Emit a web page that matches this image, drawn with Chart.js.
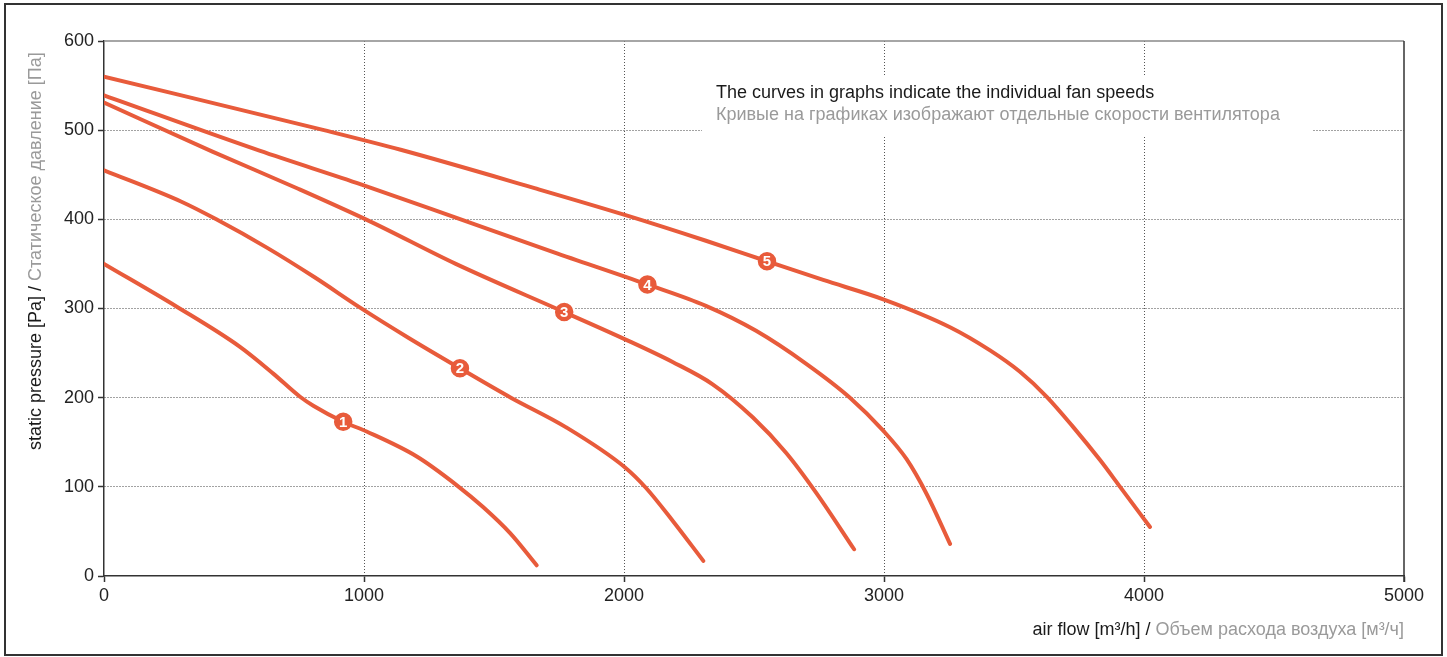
<!DOCTYPE html>
<html>
<head>
<meta charset="utf-8">
<script src="https://cdn.jsdelivr.net/npm/chart.js@4.4.1/dist/chart.umd.min.js"></script>
<style>
html,body{margin:0;padding:0;background:#fff;}
#wrap{width:1447px;height:657px;position:relative;}
canvas{display:block;}
</style>
</head>
<body>
<div id="wrap"><canvas id="c" width="1447" height="657"></canvas></div>
<script>
// ---- data ----
const xTicks = [0, 1000, 2000, 3000, 4000, 5000];
const yTicks = [0, 100, 200, 300, 400, 500, 600];

const speed1X = [0, 280, 523, 651, 754, 805, 920, 1010, 1203, 1356, 1459, 1562, 1664];
const speed1Y = [350, 302, 257, 227, 201, 191, 173, 162, 134, 102, 77, 48, 12];

const speed2X = [0, 296, 432, 628, 810, 985, 1172, 1369, 1565, 1776, 2003, 2084, 2187, 2305];
const speed2Y = [455, 420, 400, 368, 335, 301, 267, 233, 200, 167, 122, 99, 62, 17];

const speed3X = [0, 417, 749, 1021, 1353, 1770, 2000, 2187, 2341, 2495, 2624, 2740, 2885];
const speed3Y = [531, 476, 434, 398, 350, 296, 266, 240, 215, 178, 138, 93, 30];

const speed4X = [0, 598, 991, 1353, 1731, 2090, 2315, 2508, 2701, 2869, 2997, 3087, 3164, 3254];
const speed4Y = [539, 477, 439, 402, 363, 327, 303, 275, 238, 200, 163, 131, 92, 36];

const speed5X = [0, 846, 1141, 1656, 2003, 2315, 2550, 2766, 3000, 3254, 3408, 3523, 3626, 3728, 3831, 3908, 4023];
const speed5Y = [560, 500, 478, 435, 405, 376, 353, 332, 310, 279, 253, 229, 201, 167, 130, 100, 55];

const markerX = [920, 1369, 1770, 2090, 2550];
const markerY = [173, 233, 296, 327, 353];
const markerText = ['1', '2', '3', '4', '5'];

const noteLine1 = 'The curves in graphs indicate the individual fan speeds';
const noteLine2 = 'Кривые на графиках изображают отдельные скорости вентилятора';
const yTitleMain = 'static pressure [Pa] / ';
const yTitleRu = 'Статическое давление [Па]';
const xTitleMain = 'air flow [m³/h] / ';
const xTitleRu = 'Объем расхода воздуха [м³/ч]';

// ---- build ----
const LINE = '#e85b3b';
const FONT = '"Liberation Sans", Arial, Helvetica, sans-serif';
function pts(xs, ys){ return xs.map((x,i)=>({x:x, y:ys[i]})); }
const curveSets = [[speed1X,speed1Y],[speed2X,speed2Y],[speed3X,speed3Y],[speed4X,speed4Y],[speed5X,speed5Y]];
const datasets = curveSets.map(([xs,ys],i)=>({
  label: 'speed ' + (i+1),
  data: pts(xs, ys),
  borderColor: LINE,
  borderWidth: 4,
  pointRadius: 0,
  fill: false,
  cubicInterpolationMode: 'monotone',
  borderCapStyle: 'round',
  borderJoinStyle: 'round'
}));
datasets.push({
  label: 'markers',
  data: pts(markerX, markerY),
  showLine: false,
  pointRadius: 10,
  pointBackgroundColor: LINE,
  pointBorderColor: '#ffffff',
  pointBorderWidth: 1.5
});

const decor = {
  id: 'decor',
  beforeDraw(chart){
    const ctx = chart.ctx;
    ctx.save();
    ctx.fillStyle = '#fff';
    ctx.fillRect(0,0,chart.width,chart.height);
    ctx.strokeStyle = '#333';
    ctx.lineWidth = 2;
    ctx.strokeRect(5, 4, 1437, 651);
    ctx.restore();
  },
  beforeDatasetsDraw(chart){
    const ctx = chart.ctx;
    const a = chart.chartArea;
    ctx.save();
    // white panel behind the note
    ctx.fillStyle = '#fff';
    ctx.fillRect(702, 76, 610, 60);
    // top and right frame of the plot
    ctx.lineWidth = 1.5;
    ctx.strokeStyle = '#888';
    ctx.beginPath(); ctx.moveTo(a.left, a.top); ctx.lineTo(a.right, a.top); ctx.stroke();
    ctx.strokeStyle = '#333';
    ctx.beginPath(); ctx.moveTo(a.right, a.top); ctx.lineTo(a.right, a.bottom + 6); ctx.stroke();
    // note
    ctx.font = '18px ' + FONT;
    ctx.textBaseline = 'middle';
    ctx.textAlign = 'left';
    ctx.fillStyle = '#1a1a1a';
    ctx.fillText(noteLine1, 716, 93, 439);
    ctx.fillStyle = '#9a9a9a';
    ctx.fillText(noteLine2, 716, 115, 572);
    // y title
    ctx.save();
    ctx.translate(36, 450);
    ctx.rotate(-Math.PI/2);
    ctx.textAlign = 'left';
    ctx.font = '18px ' + FONT;
    ctx.fillStyle = '#1a1a1a';
    ctx.fillText(yTitleMain, 0, 0);
    const w1 = ctx.measureText(yTitleMain).width;
    ctx.fillStyle = '#9a9a9a';
    ctx.fillText(yTitleRu, w1, 0);
    ctx.restore();
    // x title (right aligned to plot right)
    ctx.font = '18px ' + FONT;
    const wr = ctx.measureText(xTitleRu).width;
    const wm = ctx.measureText(xTitleMain).width;
    const xr = a.right;
    ctx.textAlign = 'left';
    ctx.fillStyle = '#9a9a9a';
    ctx.fillText(xTitleRu, xr - wr, 630);
    ctx.fillStyle = '#1a1a1a';
    ctx.fillText(xTitleMain, xr - wr - wm, 630);
    ctx.restore();
  },
  afterDatasetsDraw(chart){
    const ctx = chart.ctx;
    const meta = chart.getDatasetMeta(chart.data.datasets.length - 1);
    ctx.save();
    ctx.font = 'bold 15px ' + FONT;
    ctx.fillStyle = '#fff';
    ctx.textAlign = 'center';
    ctx.textBaseline = 'middle';
    meta.data.forEach((p,i)=>{ ctx.fillText(markerText[i], p.x, p.y + 1); });
    ctx.restore();
  }
};

new Chart(document.getElementById('c'), {
  type: 'line',
  data: { datasets },
  options: {
    responsive: false,
    animation: false,
    layout: { padding: { left: 0, right: 43, top: 41, bottom: 0 } },
    plugins: { legend: { display: false }, tooltip: { enabled: false } },
    scales: {
      x: {
        type: 'linear',
        min: 0, max: 5000,
        afterBuildTicks(s){ s.ticks = xTicks.map(v=>({value:v})); },
        afterFit(s){ s.height = 81; },
        ticks: { color: '#222', font: { size: 18, family: FONT }, padding: 3, maxRotation: 0,
                 callback: (v)=> String(v) },
        grid: {
          color: (c)=> (c.tick && (c.tick.value === 0 || c.tick.value === 5000)) ? 'rgba(0,0,0,0)' : '#555',
          lineWidth: 1,
          drawTicks: true, tickLength: 6, tickColor: '#333', tickWidth: 1.5, tickBorderDash: []
        },
        border: { display: true, color: '#333', width: 1.5, dash: [1, 2] }
      },
      y: {
        min: 0, max: 600,
        afterBuildTicks(s){ s.ticks = yTicks.map(v=>({value:v})); },
        afterFit(s){ s.width = 104; },
        ticks: { color: '#222', font: { size: 18, family: FONT }, padding: 4,
                 callback: (v)=> String(v) },
        grid: {
          color: (c)=> (c.tick && (c.tick.value === 0 || c.tick.value === 600)) ? 'rgba(0,0,0,0)' : '#444',
          lineWidth: 1,
          drawTicks: true, tickLength: 6, tickColor: '#333', tickWidth: 1.5, tickBorderDash: []
        },
        border: { display: true, color: '#333', width: 1.5, dash: [1, 2] }
      }
    }
  },
  plugins: [decor]
});
</script>
</body>
</html>
